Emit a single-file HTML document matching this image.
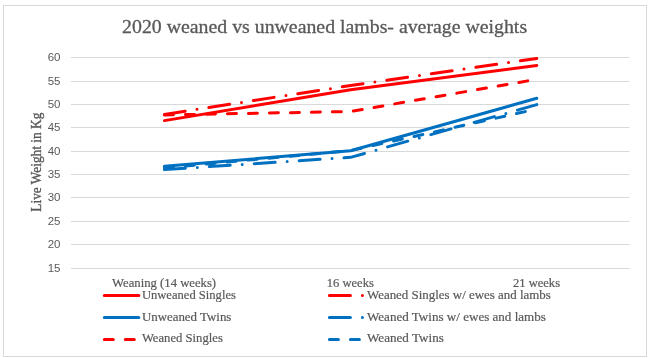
<!DOCTYPE html>
<html><head><meta charset="utf-8"><style>
html,body{margin:0;padding:0;background:#fff;}
svg{display:block;will-change:transform;}
</style></head><body>
<svg width="649" height="358" viewBox="0 0 649 358">
<rect x="0" y="0" width="649" height="358" fill="#fff"/>
<rect x="3.5" y="5.5" width="643" height="351" fill="#fff" stroke="#d9d9d9" stroke-width="1"/>
<g stroke="#d9d9d9" stroke-width="1"><line x1="71" y1="57.5" x2="629.6" y2="57.5"/><line x1="71" y1="81.5" x2="629.6" y2="81.5"/><line x1="71" y1="104.5" x2="629.6" y2="104.5"/><line x1="71" y1="127.5" x2="629.6" y2="127.5"/><line x1="71" y1="151.5" x2="629.6" y2="151.5"/><line x1="71" y1="174.5" x2="629.6" y2="174.5"/><line x1="71" y1="197.5" x2="629.6" y2="197.5"/><line x1="71" y1="221.5" x2="629.6" y2="221.5"/><line x1="71" y1="244.5" x2="629.6" y2="244.5"/><line x1="71" y1="268.5" x2="629.6" y2="268.5"/></g>
<g font-family="Liberation Sans" font-size="11.5" fill="#595959" text-anchor="end"><text x="60.5" y="60.80">60</text><text x="60.5" y="84.80">55</text><text x="60.5" y="107.80">50</text><text x="60.5" y="130.80">45</text><text x="60.5" y="154.80">40</text><text x="60.5" y="177.80">35</text><text x="60.5" y="200.80">30</text><text x="60.5" y="224.80">25</text><text x="60.5" y="247.80">20</text><text x="60.5" y="271.80">15</text></g>
<text x="324.6" y="32.6" font-family="Liberation Serif" font-size="19.3" fill="#595959" stroke="#595959" stroke-width="0.3" text-anchor="middle" textLength="405" lengthAdjust="spacingAndGlyphs">2020 weaned vs unweaned lambs- average weights</text>
<text transform="translate(40.5,162.2) rotate(-90)" font-family="Liberation Serif" font-weight="normal" font-size="14.6" fill="#595959" stroke="#595959" stroke-width="0.35" text-anchor="middle" textLength="99" lengthAdjust="spacingAndGlyphs">Live Weight in Kg</text>
<g font-family="Liberation Serif" font-size="12.5" fill="#595959" stroke="#595959" stroke-width="0.2" text-anchor="middle">
<text x="164.1" y="286.8" textLength="104" lengthAdjust="spacingAndGlyphs">Weaning (14 weeks)</text>
<text x="350.3" y="286.8" textLength="47.1" lengthAdjust="spacingAndGlyphs">16 weeks</text>
<text x="536.5" y="286.8" textLength="47.1" lengthAdjust="spacingAndGlyphs">21 weeks</text>
</g>
<polyline points="164.40,120.61 350.60,89.85 536.80,65.47" fill="none" stroke="#FF0000" stroke-width="3" stroke-linecap="round" stroke-linejoin="round" /><polyline points="164.40,114.42 350.60,85.49 536.80,58.44" fill="none" stroke="#FF0000" stroke-width="3" stroke-linecap="round" stroke-linejoin="round" stroke-dasharray="21 12 0 12"/><polyline points="164.40,114.94 350.60,111.52 536.80,79.30" fill="none" stroke="#FF0000" stroke-width="3" stroke-linecap="round" stroke-linejoin="round" stroke-dasharray="9 12"/><polyline points="164.40,166.28 350.60,150.81 536.80,98.29" fill="none" stroke="#0070C0" stroke-width="3" stroke-linecap="round" stroke-linejoin="round" /><polyline points="164.40,169.56 350.60,157.37 536.80,104.62" fill="none" stroke="#0070C0" stroke-width="3" stroke-linecap="round" stroke-linejoin="round" stroke-dasharray="21 12 0 12"/><polyline points="164.40,167.92 350.60,150.57 536.00,109.22" fill="none" stroke="#0070C0" stroke-width="3" stroke-linecap="round" stroke-linejoin="round" stroke-dasharray="9 12"/>
<g font-family="Liberation Serif" font-size="12.5" fill="#595959" stroke="#595959" stroke-width="0.2"><line x1="104.30" y1="295.50" x2="138.80" y2="295.50" stroke="#FF0000" stroke-width="3" stroke-linecap="round" /><text x="141.90" y="299.00" textLength="94.0" lengthAdjust="spacingAndGlyphs">Unweaned Singles</text><line x1="329.40" y1="295.50" x2="363.90" y2="295.50" stroke="#FF0000" stroke-width="3" stroke-linecap="round" stroke-dasharray="21 12 0 12"/><text x="367.00" y="299.00" textLength="183.8" lengthAdjust="spacingAndGlyphs">Weaned Singles w/ ewes and lambs</text><line x1="104.30" y1="317.50" x2="138.80" y2="317.50" stroke="#0070C0" stroke-width="3" stroke-linecap="round" /><text x="141.90" y="320.80" textLength="89.5" lengthAdjust="spacingAndGlyphs">Unweaned Twins</text><line x1="329.40" y1="317.50" x2="363.90" y2="317.50" stroke="#0070C0" stroke-width="3" stroke-linecap="round" stroke-dasharray="21 12 0 12"/><text x="367.00" y="320.80" textLength="178.9" lengthAdjust="spacingAndGlyphs">Weaned Twins w/ ewes and lambs</text><line x1="104.30" y1="339.50" x2="138.80" y2="339.50" stroke="#FF0000" stroke-width="3" stroke-linecap="round" stroke-dasharray="9 12"/><text x="141.90" y="342.10" textLength="81.0" lengthAdjust="spacingAndGlyphs">Weaned Singles</text><line x1="329.40" y1="339.50" x2="363.90" y2="339.50" stroke="#0070C0" stroke-width="3" stroke-linecap="round" stroke-dasharray="9 12"/><text x="367.00" y="342.10" textLength="76.8" lengthAdjust="spacingAndGlyphs">Weaned Twins</text></g>
</svg>
</body></html>
